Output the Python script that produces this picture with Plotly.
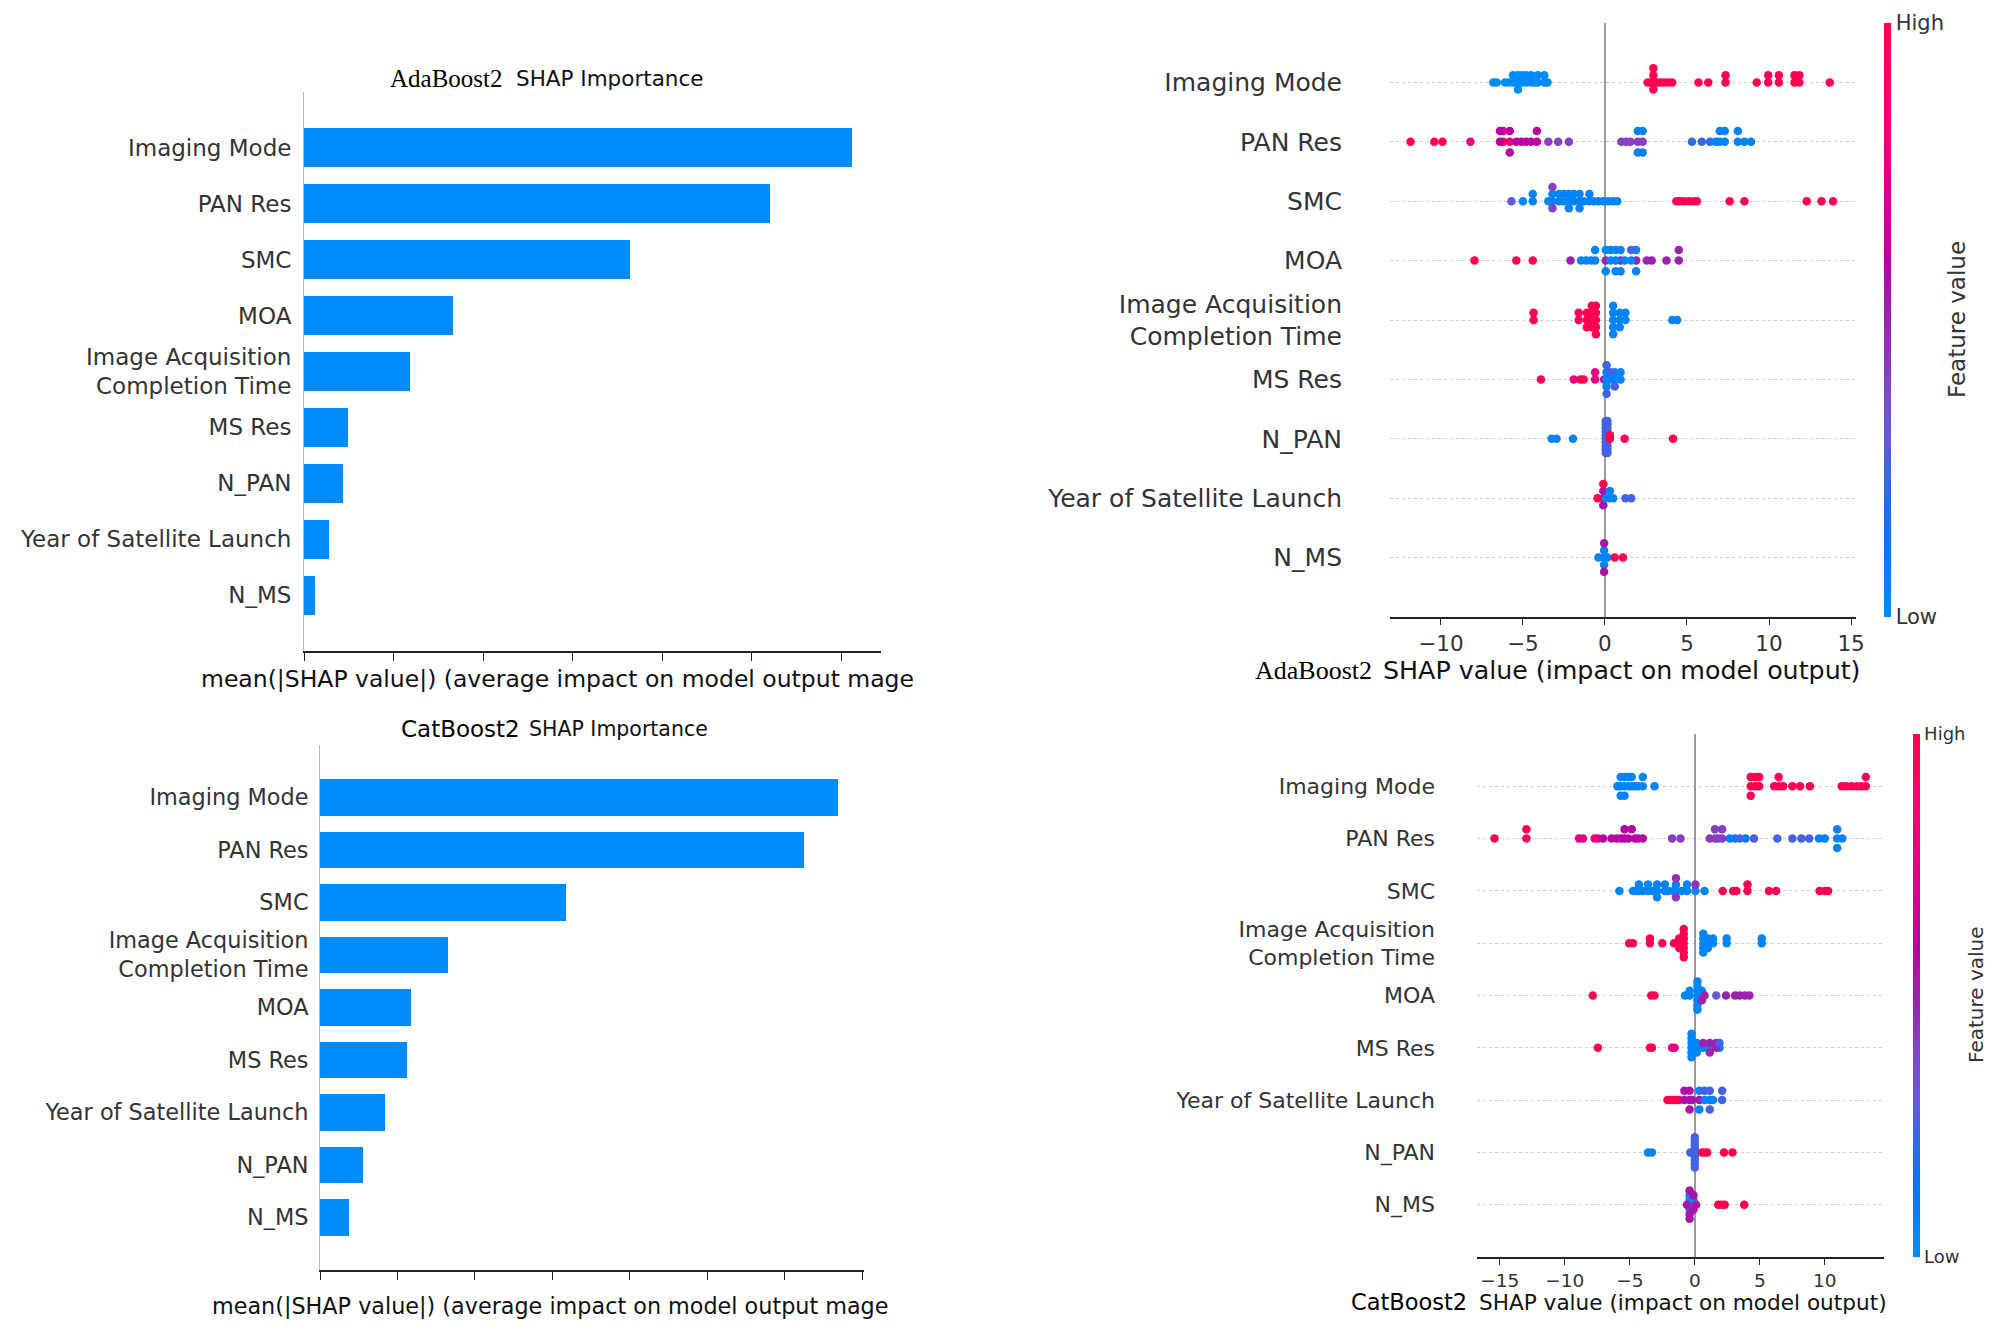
import math

import numpy as np
import plotly.graph_objects as go

W, H = 1999, 1330
OFF = 8  # the page body adds an 8px margin, so positions are shifted back by it

# ---- mean(|SHAP|) bar panels, top row first ----
ADA_FEATURES = ["Imaging Mode", "PAN Res", "SMC", "MOA", "Image Acquisition<br>Completion Time",
                "MS Res", "N_PAN", "Year of Satellite Launch", "N_MS"]
ADA_BAR_VALUES = [6.12, 5.20, 3.64, 1.66, 1.18, 0.49, 0.43, 0.28, 0.12]

CAT_FEATURES = ["Imaging Mode", "PAN Res", "SMC", "Image Acquisition<br>Completion Time", "MOA",
                "MS Res", "Year of Satellite Launch", "N_PAN", "N_MS"]
CAT_BAR_VALUES = [6.68, 6.24, 3.18, 1.65, 1.18, 1.12, 0.84, 0.55, 0.37]

# ---- beeswarm panels: (feature value 0=low..1=high, [shap values]) ----
ADA_IMAGING_MODE = [
    (0.0, [-6.8, -6.6, -6.1, -5.85, -5.6, -5.6, -5.4, -5.3, -5.3, -5.05, -5.05, -4.8, -4.8, -4.5, -4.5,
           -4.3, -4.1, -4.1, -3.7, -3.7, -3.5]),
    (1.0, [2.6, 2.75, 2.95, 2.95, 2.95, 2.95, 3.2, 3.4, 3.6, 3.85, 4.1, 5.7, 6.3, 7.35, 7.35, 9.25,
           9.95, 9.95, 10.6, 10.6, 11.55, 11.55, 11.85, 11.85, 13.7]),
]
ADA_PAN_RES = [
    (1.0, [-11.85, -10.4, -9.9, -6.2]),
    (0.8, [-8.2, -6.2, -5.8]),
    (0.6, [-6.4, -6.4, -5.8, -5.8, -5.4, -5.1, -4.8, -4.5, -4.15, -4.15]),
    (0.42, [-3.45, -2.85, -2.2, 1.0, 1.3, 1.55, 2.0, 2.3]),
    (0.22, [5.3, 5.9, 6.4]),
    (0.06, [2.0, 2.0, 2.3, 2.3, 6.75, 7.0, 7.0, 7.3, 7.3, 8.1, 8.1, 8.5, 8.9]),
]
ADA_SMC = [
    (0.3, [-5.7]),
    (0.05, [-5.0, -4.4, -4.4, -3.45, -3.2, -3.2, -2.8, -2.8, -2.5, -2.5, -2.2, -2.2, -2.2, -1.9, -1.9,
            -1.55, -1.55, -1.55, -1.3, -0.95, -0.95, -0.7, -0.4, -0.1, 0.2, 0.5, 0.75]),
    (0.4, [-3.2, -3.2]),
    (1.0, [4.35, 4.55, 4.8, 5.1, 5.4, 5.6, 7.6, 8.5, 12.3, 13.2, 13.9]),
]
ADA_MOA = [
    (0.5, [-2.1, 0.05, 0.95, 1.9, 2.55, 2.85, 3.75, 4.5, 4.5]),
    (1.0, [-7.95, -5.4, -4.4]),
    (0.05, [-1.45, -1.15, -0.85, -0.6, -0.6, 0.05, 0.05, 0.35, 0.35, 0.65, 0.65, 0.65, 0.95, 0.95,
            1.2, 1.6, 1.9, 1.9]),
    (0.25, [1.6]),
]
ADA_ACQ_TIME = [
    (1.0, [-4.35, -4.35, -1.6, -1.6, -1.1, -1.1, -1.1, -0.8, -0.8, -0.8, -0.8, -0.55, -0.55, -0.55,
           -0.55, -0.55]),
    (0.05, [0.5, 0.5, 0.5, 0.5, 0.5, 0.9, 0.9, 0.9, 1.25, 1.25, 4.1, 4.4]),
]
ADA_MS_RES = [
    (1.0, [-3.9, -1.5, -1.3]),
    (0.8, [-1.9, -0.6, -0.6]),
    (0.55, [-0.05]),
    (0.05, [0.1, 0.1, 0.1, 0.35, 0.6, 0.6, 0.95, 0.95]),
    (0.25, [0.1, 0.1, 0.35, 0.6]),
]
ADA_N_PAN = [
    (0.05, [-3.25, -2.95, -1.95]),
    (0.25, [0.05, 0.05, 0.05, 0.05, 0.05, 0.05, 0.05, 0.05, 0.05, 0.05,
            0.15, 0.15, 0.15, 0.15, 0.15, 0.15, 0.15, 0.15, 0.15, 0.15]),
    (1.0, [0.3, 0.3, 1.2, 4.15]),
]
ADA_LAUNCH_YEAR = [
    (0.55, [-0.1, -0.1, -0.1]),
    (1.0, [-0.1, -0.45]),
    (0.05, [0.05, 0.3, 0.3, 0.5]),
    (0.25, [1.25, 1.6]),
]
ADA_N_MS = [
    (0.05, [-0.05, -0.05, -0.05, -0.4, 0.15]),
    (0.55, [-0.05, -0.05]),
    (1.0, [0.6, 1.1]),
]

CAT_IMAGING_MODE = [
    (0.05, [-5.95, -5.7, -5.7, -5.7, -5.4, -5.4, -5.4, -5.1, -5.1, -4.85, -4.85, -4.6, -4.35, -4.0,
            -4.0, -3.1]),
    (1.0, [4.3, 4.3, 4.3, 4.65, 4.65, 4.95, 4.95, 6.1, 6.45, 6.45, 6.8, 7.5, 8.1, 8.85, 11.3, 11.65,
           12.05, 12.45, 12.8, 13.15, 13.15]),
]
CAT_PAN_RES = [
    (1.0, [-15.4, -12.95, -12.95]),
    (0.8, [-8.9, -8.6, -7.7, -7.45]),
    (0.58, [-7.05, -6.4, -6.0, -5.65, -5.4, -5.4, -5.1, -4.85, -4.6, -4.35, -4.0]),
    (0.42, [-1.75, -1.1, 1.15, 1.55, 1.55, 1.8, 2.1, 2.1]),
    (0.12, [2.7, 3.1, 3.9]),
    (0.25, [3.45, 4.55, 6.35, 7.5, 8.2, 8.8]),
    (0.06, [9.55, 10.0, 10.95, 10.95, 10.95, 11.35]),
]
CAT_SMC = [
    (0.05, [-5.8, -4.75, -4.5, -4.3, -4.3, -4.0, -3.6, -3.6, -3.2, -2.9, -2.9, -2.9, -2.3, -2.3, -2.05,
            -1.65, -1.45, -1.45, -1.0, -0.6, -0.6, 0.05, 0.75]),
    (0.45, [-1.45, -1.45, 0.05]),
    (1.0, [2.15, 2.95, 3.2, 4.05, 4.05, 5.7, 6.25, 9.6, 10.0, 10.25]),
]
CAT_ACQ_TIME = [
    (1.0, [-5.05, -4.75, -3.45, -3.45, -2.5, -1.6, -1.2, -1.2, -1.2, -0.85, -0.85, -0.85, -0.85,
           -0.85, -0.85, -0.85]),
    (0.05, [0.65, 0.65, 0.65, 0.65, 0.65, 1.0, 1.0, 1.0, 1.4, 1.4, 2.45, 2.45, 5.15, 5.15]),
]
CAT_MOA = [
    (1.0, [-7.85, -3.35, -3.1]),
    (0.05, [-0.75, -0.4, -0.4, 0.2, 0.2, 0.2, 0.2, 0.2, 0.2, 0.2, 0.55, 0.55]),
    (0.5, [0.55, 0.75, 2.4, 3.1, 3.45, 3.85, 4.2]),
    (0.3, [1.65]),
]
CAT_MS_RES = [
    (1.0, [-7.45, -3.45, -3.3]),
    (0.8, [-1.75, -1.55]),
    (0.05, [-0.25, -0.25, -0.25, -0.25, -0.25, -0.25, 0.15, 0.15, 0.15, 0.65, 1.15, 1.9]),
    (0.5, [0.65, 1.15, 1.15, 1.65, 1.65]),
    (0.25, [1.9]),
]
CAT_LAUNCH_YEAR = [
    (1.0, [-2.1, -1.9, -1.65, -1.4, -1.2]),
    (0.55, [-0.8, -0.8, -0.4, -0.4, -0.4, -0.2, 0.35]),
    (0.05, [0.35, 0.35, 0.75, 1.15, 1.4]),
    (0.25, [0.75, 1.15, 1.15, 2.1, 2.1]),
]
CAT_N_PAN = [
    (0.05, [-3.6, -3.3]),
    (0.25, [-0.35, 0.0, 0.0, 0.0, 0.0, 0.0, 0.0, 0.0, 0.0, 0.0]),
    (1.0, [0.55, 0.75, 0.95, 2.25, 2.9]),
]
CAT_N_MS = [
    (0.05, [-0.4, -0.4, -0.4, -0.4, -0.1, -0.1]),
    (0.55, [-0.6, -0.4, -0.4, -0.4, -0.1, -0.1, 0.1]),
    (1.0, [1.8, 2.05, 2.3, 3.8]),
]

ADA_SWARM = [ADA_IMAGING_MODE, ADA_PAN_RES, ADA_SMC, ADA_MOA, ADA_ACQ_TIME, ADA_MS_RES,
             ADA_N_PAN, ADA_LAUNCH_YEAR, ADA_N_MS]
CAT_SWARM = [CAT_IMAGING_MODE, CAT_PAN_RES, CAT_SMC, CAT_ACQ_TIME, CAT_MOA, CAT_MS_RES,
             CAT_LAUNCH_YEAR, CAT_N_PAN, CAT_N_MS]

BAR_COLOR = "#008bfb"
TEXT = "#333333"
SANS = "DejaVu Sans"
SERIF = "Liberation Serif"


def lch_to_hex(l, c, h):
    # CIE LCh -> sRGB (D65), the way shap builds its red_blue map
    a, b = c * math.cos(h), c * math.sin(h)
    fy = (l + 16) / 116
    fx, fz = fy + a / 500, fy - b / 200

    def finv(t):
        return t ** 3 if t > 6 / 29 else 3 * (6 / 29) ** 2 * (t - 4 / 29)

    x, y, z = 0.95047 * finv(fx), finv(fy), 1.08883 * finv(fz)
    lin = [3.2404542 * x - 1.5371385 * y - 0.4985314 * z,
           -0.9692660 * x + 1.8760108 * y + 0.0415560 * z,
           0.0556434 * x - 0.2040259 * y + 1.0572252 * z]
    out = []
    for v in lin:
        v = 12.92 * v if v <= 0.0031308 else 1.055 * max(v, 0) ** (1 / 2.4) - 0.055
        out.append(int(round(min(max(v, 0), 1) * 255)))
    return "#%02x%02x%02x" % tuple(out)


def red_blue_scale(steps=11):
    scale = []
    for p in np.linspace(0, 1, steps):
        l = 54 - 28 * p if p <= 0.5 else 40 + 28 * (p - 0.5)
        c = 70 + 20 * p
        h = 4.6588 + p * (0.35470565 + 2 * math.pi - 4.6588)
        scale.append([float(p), lch_to_hex(l, c, h)])
    return scale


def swarm_offsets(vals, row_height=0.4, nbins=100):
    vals = np.asarray(vals, dtype=float)
    quant = np.round(nbins * (vals - vals.min()) / (vals.max() - vals.min() + 1e-8))
    ys = np.zeros(len(vals))
    layer, last = 0, None
    for i in np.argsort(quant, kind="stable"):
        if quant[i] != last:
            layer = 0
        ys[i] = math.ceil(layer / 2) * ((layer % 2) * 2 - 1)
        layer += 1
        last = quant[i]
    return ys * 0.9 * (row_height / np.max(ys + 1))


def swarm_trace(rows, xa, ya, cax):
    xs, ys, cs = [], [], []
    n = len(rows)
    for i, groups in enumerate(rows):
        vals = [v for _, g in groups for v in g]
        fvs = [fv for fv, g in groups for _ in g]
        xs += vals
        ys += list(n - 1 - i + swarm_offsets(vals))
        cs += fvs
    return go.Scatter(x=xs, y=ys, mode="markers", xaxis=xa, yaxis=ya, showlegend=False,
                      hoverinfo="skip",
                      marker=dict(size=8.5, color=cs, coloraxis=cax, line=dict(width=0)))


def bar_trace(values, xa, ya):
    n = len(values)
    return go.Bar(x=values, y=[n - 1 - i for i in range(n)], orientation="h", width=0.7,
                  marker=dict(color=BAR_COLOR, line=dict(width=0)), xaxis=xa, yaxis=ya,
                  showlegend=False, hoverinfo="skip")


def px(x, y):
    return (x - OFF) / W, 1 - (y - OFF) / H


def dom(x0, x1, y0, y1):
    a, top = px(x0, y0)
    b, bottom = px(x1, y1)
    return [a, b], [bottom, top]


def bar_axes(box, xmax, labels, font_size, standoff):
    xd, yd = dom(*box)
    n = len(labels)
    xa = dict(domain=xd, range=[0, xmax], showline=True, linecolor="#222222", linewidth=1.5,
              ticks="outside", ticklen=8, tickcolor="#222222", tickwidth=1.2, dtick=1, tick0=0,
              showticklabels=False, showgrid=False, zeroline=False, automargin=False)
    ya = dict(domain=yd, range=[-1, n], tickvals=list(range(n - 1, -1, -1)), ticktext=labels,
              ticks="", showline=True, linecolor="#bbbbbb", linewidth=1, showgrid=False,
              zeroline=False, tickfont=dict(family=SANS, size=font_size, color=TEXT),
              ticklabelstandoff=standoff, automargin=False)
    return xa, ya


def swarm_axes(box, xrange, tickvals, labels, label_size, tick_size, standoff):
    xd, yd = dom(*box)
    n = len(labels)
    xa = dict(domain=xd, range=xrange, tickvals=tickvals, ticks="outside", ticklen=6,
              tickcolor="#222222", tickwidth=1.2, showline=True, linecolor="#222222",
              linewidth=2, showgrid=False, zeroline=True, zerolinecolor="#999999",
              zerolinewidth=2, tickfont=dict(family=SANS, size=tick_size, color=TEXT),
              automargin=False)
    ya = dict(domain=yd, range=[-1, n], tickvals=list(range(n - 1, -1, -1)), ticktext=labels,
              ticks="", showline=False, showgrid=True, gridcolor="#d0d0d0", griddash="dot",
              gridwidth=1, zeroline=False, tickfont=dict(family=SANS, size=label_size, color=TEXT),
              ticklabelstandoff=standoff, automargin=False)
    return xa, ya


def colorbar(x_left, y_top, y_bottom, tick_size):
    x, y = px(x_left, (y_top + y_bottom) / 2)
    return dict(x=x, xanchor="left", xpad=0, y=y, yanchor="middle", ypad=0,
                len=y_bottom - y_top, lenmode="pixels", thickness=7, outlinewidth=0,
                tickvals=[0, 1], ticktext=["Low", "High"], ticks="",
                tickfont=dict(family=SANS, size=tick_size, color=TEXT))


def label(text, x, y, size, family=SANS, color="#111111", angle=0, anchor="left"):
    xp, yp = px(x, y)
    return dict(text=text, x=xp, y=yp, xref="paper", yref="paper", xanchor=anchor,
                yanchor="middle", showarrow=False, textangle=angle,
                font=dict(family=family, size=size, color=color))


fig = go.Figure()
fig.add_trace(bar_trace(ADA_BAR_VALUES, "x", "y"))
fig.add_trace(swarm_trace(ADA_SWARM, "x2", "y2", "coloraxis"))
fig.add_trace(bar_trace(CAT_BAR_VALUES, "x3", "y3"))
fig.add_trace(swarm_trace(CAT_SWARM, "x4", "y4", "coloraxis2"))

x1, y1 = bar_axes((304, 881, 92, 651), 6.44, ADA_FEATURES, 23, 7)
x2, y2 = swarm_axes((1390, 1856, 23, 617), [-13.1, 15.3], [-10, -5, 0, 5, 10, 15],
                    ADA_FEATURES, 25, 21.5, 47)
x3, y3 = bar_axes((320, 864, 745, 1270), 7.02, CAT_FEATURES, 22.4, 6)
x4, y4 = swarm_axes((1477, 1884, 734, 1257), [-16.75, 14.55], [-15, -10, -5, 0, 5, 10],
                    CAT_FEATURES, 22, 18.5, 41)
for xa, ya, k in [(x1, y1, ""), (x2, y2, "2"), (x3, y3, "3"), (x4, y4, "4")]:
    xa["anchor"] = "y" + k
    ya["anchor"] = "x" + k

scale = red_blue_scale()
fig.update_layout(
    width=W, height=H, margin=dict(l=0, r=0, t=0, b=0),
    paper_bgcolor="white", plot_bgcolor="white", bargap=0,
    xaxis=x1, yaxis=y1, xaxis2=x2, yaxis2=y2, xaxis3=x3, yaxis3=y3, xaxis4=x4, yaxis4=y4,
    coloraxis=dict(colorscale=scale, cmin=0, cmax=1, colorbar=colorbar(1884, 23, 617, 21)),
    coloraxis2=dict(colorscale=scale, cmin=0, cmax=1, colorbar=colorbar(1913, 734, 1257, 18)),
    annotations=[
        label("AdaBoost2", 388, 79, 25, SERIF, "#000000"),
        label("SHAP Importance", 514, 79, 21.5),
        label("CatBoost2", 399, 729, 23, SANS, "#000000"),
        label("SHAP Importance", 527, 729, 20.5),
        label("mean(|SHAP value|) (average impact on model output mage", 199, 679, 23.5),
        label("mean(|SHAP value|) (average impact on model output mage", 210, 1306, 22.3),
        label("AdaBoost2", 1253, 670, 26, SERIF, "#000000"),
        label("SHAP value (impact on model output)", 1381, 670, 25.3),
        label("CatBoost2", 1349, 1302, 22.5, SANS, "#000000"),
        label("SHAP value (impact on model output)", 1477, 1302, 21.6),
        label("Feature value", 1957, 320, 23, SANS, TEXT, -90, "center"),
        label("Feature value", 1976, 995, 20, SANS, TEXT, -90, "center"),
    ],
)

fig.write_html("out.html")
